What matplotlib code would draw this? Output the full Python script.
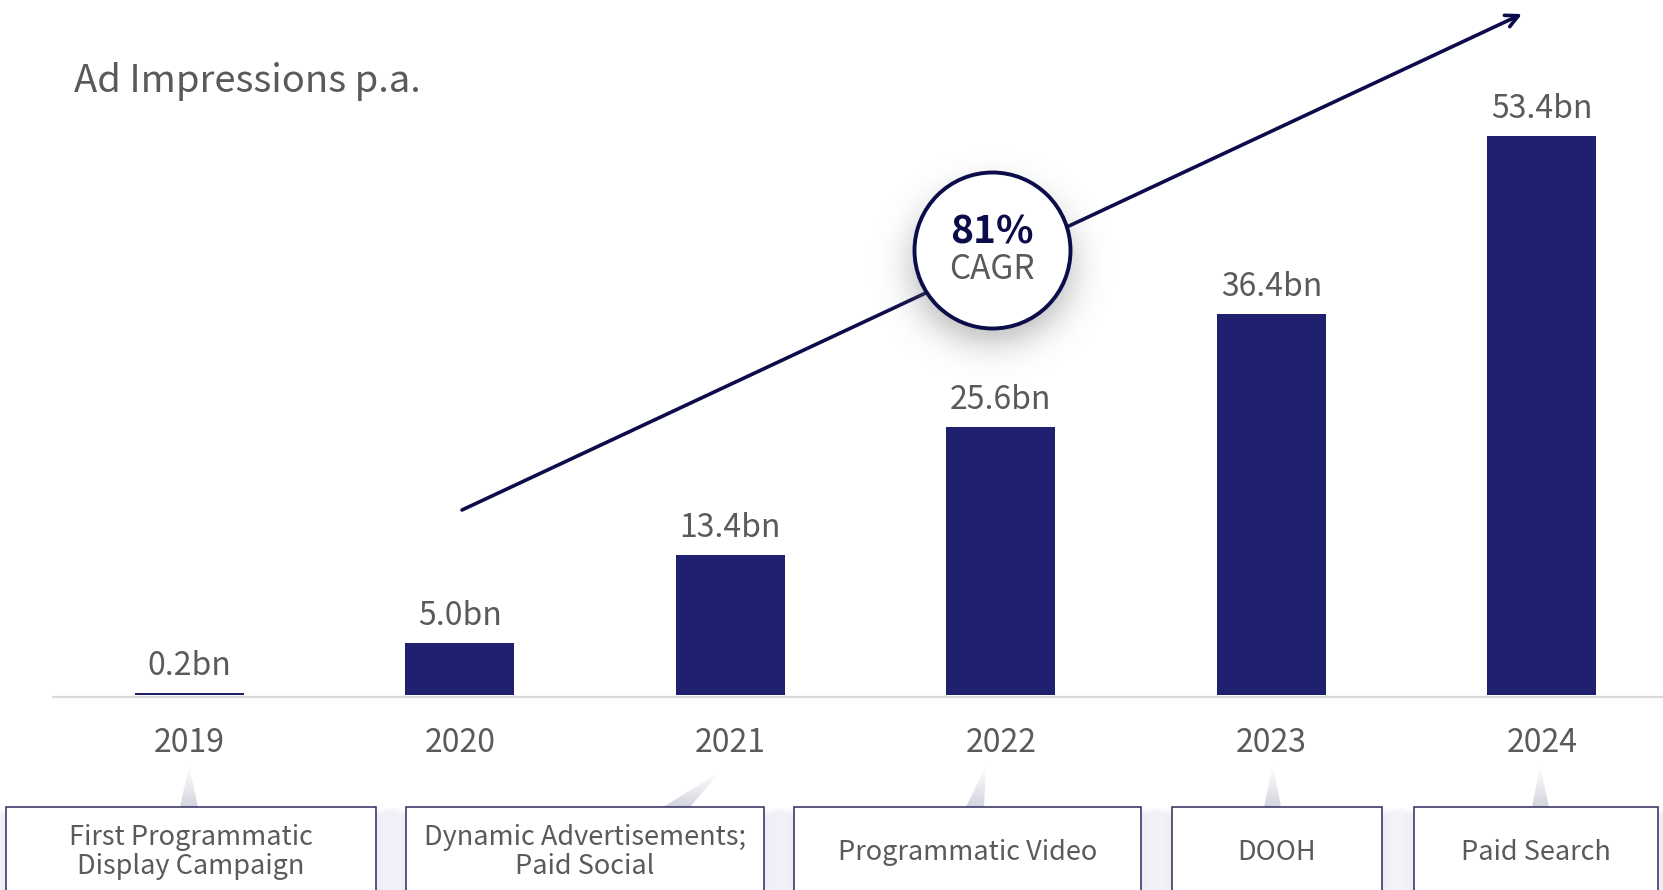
import numpy as np
import matplotlib
matplotlib.use("Agg")
import matplotlib.pyplot as plt
from matplotlib.patches import Rectangle, Polygon
from matplotlib.colors import LinearSegmentedColormap

plt.rcParams['font.family'] = ['Noto Sans CJK SC', 'DejaVu Sans']

# ---- data ----
years = ["2019", "2020", "2021", "2022", "2023", "2024"]
impressions_bn = [0.2, 5.0, 13.4, 25.6, 36.4, 53.4]
value_labels = ["0.2bn", "5.0bn", "13.4bn", "25.6bn", "36.4bn", "53.4bn"]
cagr_text = "81%"
milestones = ["First Programmatic\nDisplay Campaign", "Dynamic Advertisements;\nPaid Social",
              "Programmatic Video", "DOOH", "Paid Search"]
milestone_year_idx = [0, 2, 3, 4, 5]

# ---- style ----
BAR = "#1f2170"
NAVY = "#0c0c4a"
GREY_TXT = "#5a5a5a"
W, H = 1663, 890

fig = plt.figure(figsize=(W / 100, H / 100), dpi=100)
ax = fig.add_axes([0, 0, 1, 1])

# axis scale: category spacing and bn-per-pixel
X0, DX = 189.3, 270.5       # pixel x of first category, pixels per category
Y0, DY = 695.0, 10.47       # pixel y of zero line, pixels per bn
ax.set_xlim(-X0 / DX, (W - X0) / DX)
ax.set_ylim(-(H - Y0) / DY, Y0 / DY)
ax.axis("off")

def X(px):
    return (px - X0) / DX

def Y(py):
    return (Y0 - py) / DY

# baseline
ax.plot([X(53), X(W)], [Y(696.5), Y(696.5)], color="#d9d9d9", lw=1.6, zorder=1)

# bars + labels
xs = np.arange(len(years))
ax.bar(xs, impressions_bn, width=109 / DX, color=BAR, zorder=2)
for x, v, lab in zip(xs, impressions_bn, value_labels):
    ax.annotate(lab, (x, v), xytext=(0, 13), textcoords="offset points",
                ha="center", va="baseline", fontsize=23, color=GREY_TXT)
for x, yr in zip(xs, years):
    ax.text(x, Y(752), yr, ha="center", va="baseline", fontsize=23, color=GREY_TXT)

# title
ax.text(X(74), Y(92), "Ad Impressions p.a.", ha="left", va="baseline",
        fontsize=27.5, color=GREY_TXT)

# growth arrow
ax.annotate("", xy=(X(1522), Y(14)), xytext=(X(462), Y(510)),
            arrowprops=dict(arrowstyle="->,head_length=0.9,head_width=0.45",
                            color=NAVY, lw=2.6, shrinkA=0, shrinkB=0), zorder=3)

# soft shadow under the CAGR badge
cx, cy, R = 992.0, 250.0, 78.0
gx = np.linspace(cx - 170, cx + 170, 341)
gy = np.linspace(cy - 140, cy + 190, 331)
GX, GY = np.meshgrid(gx, gy)
rr = np.hypot(GX - cx, (GY - (cy + 16)) * 1.05)
alpha = 0.40 * np.exp(-np.clip(rr - (R - 22), 0, None) ** 2 / (2 * 22.0 ** 2))
rgba = np.zeros(GX.shape + (4,))
rgba[..., :3] = 0.42
rgba[..., 3] = alpha
ax.imshow(rgba, extent=(X(gx[0]), X(gx[-1]), Y(gy[-1]), Y(gy[0])),
          aspect="auto", zorder=4, interpolation="bilinear")

# CAGR badge
ax.scatter([X(cx)], [Y(cy)], s=(2 * R * 0.72) ** 2, facecolor="white",
           edgecolor=NAVY, linewidth=2.8, zorder=5)
ax.text(X(cx), Y(243), cagr_text, ha="center", va="baseline", fontsize=28,
        fontweight="bold", color=NAVY, zorder=6)
ax.text(X(cx), Y(279), "CAGR", ha="center", va="baseline", fontsize=24,
        color=GREY_TXT, zorder=6)

# milestone boxes with tapered connectors
boxes = [(6, 376), (406, 764), (794, 1141), (1172, 1382), (1414, 1658)]
connectors = [((189, 766), (180, 198)), ((720, 772), (663, 690)),
              ((986, 766), (966, 984)), ((1273, 766), (1264, 1281)),
              ((1540, 766), (1532, 1549))]
box_top = 807
grad = LinearSegmentedColormap.from_list("g", ["#ffffff", "#d4d4de"])
for (l, r), text, ((ax_, ay_), (b0, b1)) in zip(boxes, milestones, connectors):
    poly = Polygon([(X(ax_), Y(ay_)), (X(b0), Y(box_top)), (X(b1), Y(box_top))],
                   closed=True, facecolor="none", edgecolor="none")
    ax.add_patch(poly)
    img = ax.imshow(np.linspace(0, 1, 50)[:, None],
                    extent=(X(min(ax_, b0)), X(max(ax_, b1)), Y(box_top), Y(ay_)),
                    cmap=grad, aspect="auto", zorder=1)
    img.set_clip_path(poly)
    # faint drop shadow around the box
    for k in range(1, 11):
        e = 2.2 * k
        ax.add_patch(Rectangle((X(l - e), Y(H + 10)), X(r + e) - X(l - e),
                               Y(box_top + 10 - e * 0.4) - Y(H + 10),
                               facecolor="#9a9ab0", edgecolor="none", alpha=0.012,
                               zorder=1.5))
    ax.add_patch(Rectangle((X(l), Y(H + 10)), X(r) - X(l), Y(box_top) - Y(H + 10),
                           facecolor="white", edgecolor="#2b2b5e", lw=1.1, zorder=2))
    ax.text(X((l + r) / 2), Y(852), text, ha="center", va="center", fontsize=19.5,
            color=GREY_TXT, linespacing=1.08, zorder=3)

fig.savefig("out.png", dpi=100, facecolor="white")
